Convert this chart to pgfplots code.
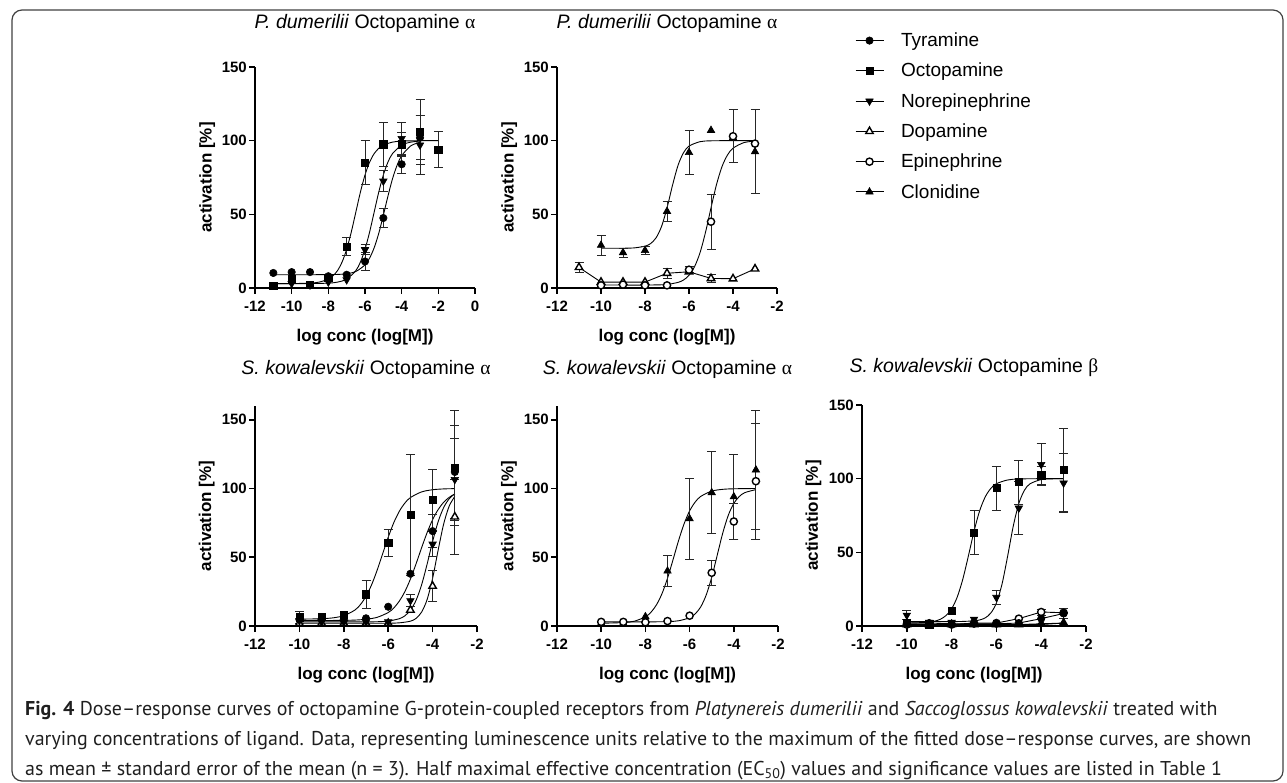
\documentclass[border=0pt]{standalone}
\usepackage{fontspec}
\setmainfont{Liberation Sans}
\newfontfamily\greekfont{Liberation Serif}
\newfontfamily\capfont{PT Sans}
\usepackage{pgfplots}
\pgfplotsset{compat=1.18}
\newlength\capw
\pgfplotsset{
  prism/.style={
    scale only axis, clip=false,
    axis lines=left,
    axis line style={line width=1.6pt, -},
    tick align=outside, major tick length=6pt,
    every tick/.style={line width=1.6pt, black},
    xmin=-12, ymin=0,
    ytick={0,50,100,150}, yticklabels={0,50,100,150},
    tick label style={font=\bfseries\fontsize{15}{15}\selectfont, inner sep=2pt},
    xticklabel style={yshift=-5pt},
    xlabel={log conc (log[M])},
    ylabel={activation [\%]},
    label style={font=\bfseries\fontsize{17}{17}\selectfont},
    ylabel style={at={(axis description cs:-0.217,0.5)}, anchor=center},
    title style={font=\fontsize{19.5}{19.5}\selectfont, anchor=base},
  },
  tyrm/.style={mark=*, mark size=3.7pt, mark options={fill=black, draw=black, line width=0.6pt, solid}},
  octm/.style={mark=square*, mark size=3.6pt, mark options={fill=black, draw=black, line width=0.6pt, solid}},
  nem/.style={mark=triangle*, mark size=4.3pt, mark options={rotate=180, fill=black, draw=black, line width=0.6pt, solid}},
  dam/.style={mark=triangle*, mark size=4.3pt, mark options={fill=white, draw=black, line width=1.4pt, solid}},
  epim/.style={mark=*, mark size=3.6pt, mark options={fill=white, draw=black, line width=1.4pt, solid}},
  clom/.style={mark=triangle*, mark size=4.3pt, mark options={fill=black, draw=black, line width=0.6pt, solid}},
  pts/.style={only marks, forget plot},
  fitline/.style={no markers, black, line width=0.9pt, smooth, forget plot},
  conn/.style={black, line width=0.9pt, forget plot},
  ebar/.style={forget plot, only marks, mark=none,
    error bars/.cd, y dir=both, y explicit,
    error bar style={draw=black!85, line width=0.9pt},
    error mark options={rotate=90, mark size=4.5pt, line width=0.9pt, draw=black!85}},
}
\begin{document}%
\settowidth{\capw}{\capfont\fontsize{18}{18}\selectfont varying concentrations of ligand. Data, representing luminescence units relative to the maximum of the fitted dose–response curves, are shown}%
\pgfmathsetmacro{\capsz}{18*(1226/\capw)}%
\def\capsel{\capfont\fontsize{\capsz}{\capsz}\selectfont}%
\begin{tikzpicture}
\useasboundingbox (0pt,0pt) rectangle (1287pt,782pt);
\draw[rounded corners=10pt, line width=1.2pt, black!75] (12pt,1pt) rectangle (1283pt,772pt);

% ---------------- Panel 1 ----------------
\begin{axis}[prism, at={(255pt,494pt)}, anchor=south west, width=220pt, height=221pt,
  xmax=0, ymax=150, xtick={-12,-10,-8,-6,-4,-2,0}, xticklabels={-12,-10,-8,-6,-4,-2,0},
  xlabel style={at={(axis description cs:0.5,-0.24)}, anchor=base},
  title style={at={(axis description cs:0.5,1.145)}},
  title={\textit{P. dumerilii} Octopamine {\greekfont α}}]
\addplot[fitline] coordinates {(-11,3.0) (-10,3.0) (-9,3.3) (-8.5,4.0) (-8,6.0) (-7.75,8.2) (-7.5,11.8) (-7.25,17.6) (-7,26.3) (-6.75,37.9) (-6.5,51.5) (-6.25,65.1) (-6,76.7) (-5.75,85.4) (-5.5,91.2) (-5.25,94.8) (-5,97.0) (-4.5,99.0) (-4,99.7) (-3,100) (-2,100)};
\addplot[fitline] coordinates {(-11,9.0) (-10,9.0) (-9,9.0) (-8,9.1) (-7.5,9.2) (-7,9.7) (-6.5,11.2) (-6,15.7) (-5.75,20.3) (-5.5,27.3) (-5.25,37.1) (-5,49.3) (-4.75,62.3) (-4.5,74.1) (-4.25,83.3) (-4,89.8) (-3.5,96.5) (-3,98.9)};
\addplot[fitline] coordinates {(-11,3.0) (-10,3.0) (-9,3.0) (-8,3.3) (-7.5,4.0) (-7,6.0) (-6.5,11.8) (-6.25,17.6) (-6,26.3) (-5.75,37.9) (-5.5,51.5) (-5.25,65.1) (-5,76.7) (-4.75,85.4) (-4.5,91.2) (-4,97.0) (-3.5,99.0) (-3,99.7)};
\addplot[ebar] coordinates {(-6,18) +- (0,6) (-5,47.5) +- (0,6.5) (-4,84) +- (0,6) (-3,102) +- (0,15)};
\addplot[ebar] coordinates {(-7,28) +- (0,6) (-6,85) +- (0,15) (-5,97.5) +- (0,15) (-4,97.5) +- (0,8) (-3,106) +- (0,22) (-2,94) +- (0,12)};
\addplot[ebar] coordinates {(-6,26) +- (0,3.5) (-5,72.5) +- (0,7) (-4,101.5) +- (0,11) (-3,97) +- (0,20)};
\addplot[pts, tyrm] coordinates {(-11,10.2) (-10,10.8) (-9,10.8) (-8,8) (-7,9) (-6,18) (-5,47.5) (-4,84) (-3,102)};
\addplot[pts, nem] coordinates {(-10,3) (-9,2) (-8,4) (-7,5.5) (-6,26) (-5,72.5) (-4,101.5) (-3,97)};
\addplot[pts, octm] coordinates {(-11,1.6) (-10,6) (-9,2.3) (-8,6.8) (-7,28) (-6,85) (-5,97.5) (-4,97.5) (-3,106) (-2,94)};
\end{axis}

% ---------------- Panel 2 ----------------
\begin{axis}[prism, at={(557pt,494pt)}, anchor=south west, width=220pt, height=221pt,
  xmax=-2, ymax=150, xtick={-12,-10,-8,-6,-4,-2}, xticklabels={-12,-10,-8,-6,-4,-2},
  xlabel style={at={(axis description cs:0.5,-0.24)}, anchor=base},
  title style={at={(axis description cs:0.5,1.145)}},
  title={\textit{P. dumerilii} Octopamine {\greekfont α}},
  legend image code/.code={\draw[mark repeat=2,mark phase=2,#1] plot coordinates {(0pt,0pt) (14pt,0pt) (28pt,0pt)};},
  legend style={at={(axis description cs:1.3545,1.154)}, anchor=north west, draw=none, fill=none,
    inner sep=0pt, outer sep=0pt, row sep=15pt, column sep=17pt,
    font=\fontsize{19}{19}\selectfont, nodes={inner sep=0pt}},
  legend cell align=left]
\addlegendimage{black, line width=1pt, tyrm}\addlegendentry{Tyramine}
\addlegendimage{black, line width=1pt, octm}\addlegendentry{Octopamine}
\addlegendimage{black, line width=1pt, nem}\addlegendentry{Norepinephrine}
\addlegendimage{black, line width=1pt, dam}\addlegendentry{Dopamine}
\addlegendimage{black, line width=1pt, epim}\addlegendentry{Epinephrine}
\addlegendimage{black, line width=1pt, clom}\addlegendentry{Clonidine}
\addplot[fitline] coordinates {(-10,27.0) (-9,27.0) (-8.5,27.2) (-8,28.4) (-7.75,30.1) (-7.5,34.0) (-7.25,41.7) (-7,54.3) (-6.75,69.7) (-6.5,83.2) (-6.25,91.8) (-6,96.3) (-5.5,99.3) (-5,99.9) (-4,100) (-3,100)};
\addplot[fitline] coordinates {(-10,2.0) (-9,2.0) (-8,2.0) (-7.5,2.1) (-7,2.4) (-6.5,3.8) (-6.25,5.4) (-6,8.6) (-5.75,14.4) (-5.5,23.9) (-5.25,37.8) (-5,54.4) (-4.75,70.2) (-4.5,82.4) (-4.25,90.3) (-4,94.9) (-3.5,98.7) (-3,99.7)};
\addplot[ebar] coordinates {(-10,29) +- (0,7) (-9,24) +- (0,3) (-8,25.5) +- (0,3) (-7,52) +- (0,7) (-6,92) +- (0,15) (-3,92.5) +- (0,28.5)};
\addplot[ebar] coordinates {(-6,12.4) +- (0,2) (-5,45) +- (0,18.5) (-4,103) +- (0,18)};
\addplot[ebar] coordinates {(-11,14) +- (0,3.5) (-7,10) +- (0,3.5) (-5,6.5) +- (0,3)};
\addplot[pts, clom] coordinates {(-10,29) (-9,24) (-8,25.5) (-7,52) (-6,92) (-5,107) (-4,102) (-3,92.5)};
\addplot[conn, dam] coordinates {(-11,14) (-10,4) (-9,4) (-8,4) (-7,10) (-6,11) (-5,6.5) (-4,6.3) (-3,13)};
\addplot[pts, epim] coordinates {(-10,1.8) (-9,2.3) (-8,1.8) (-7,1.8) (-6,12.4) (-5,45) (-4,103) (-3,98)};
\end{axis}

% ---------------- Panel 4 ----------------
\begin{axis}[prism, at={(255pt,156pt)}, anchor=south west, width=222pt, height=220pt,
  xmax=-2, ymax=160, xtick={-12,-10,-8,-6,-4,-2}, xticklabels={-12,-10,-8,-6,-4,-2},
  xlabel style={at={(axis description cs:0.5,-0.245)}, anchor=base},
  title style={at={(axis description cs:0.5,1.118)}},
  title={\textit{S. kowalevskii} Octopamine {\greekfont α}}]
\addplot[fitline] coordinates {(-10,5.0) (-9.5,5.1) (-9,5.3) (-8.5,5.9) (-8,7.5) (-7.5,11.6) (-7.25,15.6) (-7,21.6) (-6.75,29.9) (-6.5,40.5) (-6.25,52.5) (-6,64.5) (-5.75,75.1) (-5.5,83.4) (-5.25,89.4) (-5,93.4) (-4.5,97.5) (-4,99.1) (-3.5,99.7) (-3,99.9)};
\addplot[fitline] coordinates {(-10,4.0) (-9,4.0) (-8,4.1) (-7.5,4.3) (-7,4.9) (-6.5,6.3) (-6,9.8) (-5.75,13.1) (-5.5,18.1) (-5.25,25.0) (-5,34.1) (-4.75,45.0) (-4.5,56.7) (-4.25,67.8) (-4,77.3) (-3.75,84.7) (-3.5,90.0) (-3.25,93.6) (-3,96.0)};
\addplot[fitline] coordinates {(-10,3.0) (-8,3.0) (-7,3.0) (-6.5,3.1) (-6,3.6) (-5.5,5.3) (-5.25,7.4) (-5,11.5) (-4.75,18.5) (-4.5,29.7) (-4.25,44.8) (-4,61.4) (-3.75,75.9) (-3.5,86.2) (-3.25,92.6) (-3,96.1)};
\addplot[fitline] coordinates {(-10,2.0) (-8,2.0) (-7,2.0) (-6,2.0) (-5.5,2.3) (-5,3.5) (-4.75,5.5) (-4.5,10.0) (-4.25,19.1) (-4,34.7) (-3.75,55.2) (-3.5,74.3) (-3.25,87.3) (-3,94.2)};
\addplot[ebar] coordinates {(-10,6.3) +- (0,4.5) (-7,23) +- (0,10) (-6,60.5) +- (0,10) (-5,81) +- (0,44) (-4,91.5) +- (0,22) (-3,115) +- (0,42)};
\addplot[ebar] coordinates {(-4,69) +- (0,12) (-3,112) +- (0,34)};
\addplot[ebar] coordinates {(-5,18.4) +- (0,4.5) (-4,59.5) +- (0,9) (-3,106.5) +- (0,30)};
\addplot[ebar] coordinates {(-4,29) +- (0,11.5) (-3,79.4) +- (0,27)};
\addplot[pts, dam] coordinates {(-10,2) (-9,2) (-8,2) (-7,2) (-6,2) (-5,11.6) (-4,29) (-3,79.4)};
\addplot[pts, nem] coordinates {(-10,4) (-9,3) (-8,3) (-7,3) (-6,3) (-5,18.4) (-4,59.5) (-3,106.5)};
\addplot[pts, tyrm] coordinates {(-10,4.8) (-9,5) (-8,4) (-7,5.6) (-6,14) (-5,38) (-4,69) (-3,112)};
\addplot[pts, octm] coordinates {(-10,6.3) (-9,6.8) (-8,8) (-7,23) (-6,60.5) (-5,81) (-4,91.5) (-3,115)};
\end{axis}

% ---------------- Panel 5 ----------------
\begin{axis}[prism, at={(557pt,156pt)}, anchor=south west, width=221pt, height=220pt,
  xmax=-2, ymax=160, xtick={-12,-10,-8,-6,-4,-2}, xticklabels={-12,-10,-8,-6,-4,-2},
  xlabel style={at={(axis description cs:0.5,-0.245)}, anchor=base},
  title style={at={(axis description cs:0.5,1.118)}},
  title={\textit{S. kowalevskii} Octopamine {\greekfont α}}]
\addplot[fitline] coordinates {(-10,2.0) (-9,2.5) (-8.5,3.5) (-8,6.7) (-7.75,10.0) (-7.5,15.4) (-7.25,23.5) (-7,34.7) (-6.75,48.2) (-6.5,62.1) (-6.25,74.3) (-6,83.7) (-5.75,90.1) (-5.5,94.2) (-5,98.1) (-4.5,99.4) (-4,99.8) (-3,100)};
\addplot[fitline] coordinates {(-10,3.0) (-8,3.0) (-7,3.2) (-6.5,3.8) (-6,6.0) (-5.75,8.8) (-5.5,13.8) (-5.25,22.5) (-5,35.4) (-4.75,51.5) (-4.5,67.6) (-4.25,80.5) (-4,89.2) (-3.75,94.2) (-3.5,97.0) (-3,99.2)};
\addplot[ebar] coordinates {(-7,40) +- (0,11) (-6,78) +- (0,29.5) (-5,97) +- (0,30) (-4,94) +- (0,31) (-3,113.5) +- (0,43)};
\addplot[ebar] coordinates {(-5,38.7) +- (0,9) (-4,76) +- (0,13) (-3,105.3) +- (0,42)};
\addplot[pts, clom] coordinates {(-10,2) (-9,2) (-8,6.8) (-7,40) (-6,78) (-5,97) (-4,94) (-3,113.5)};
\addplot[pts, epim] coordinates {(-10,3) (-9,3) (-8,2.7) (-7,3.6) (-6,7.5) (-5,38.7) (-4,76) (-3,105.3)};
\end{axis}

% ---------------- Panel 6 ----------------
\begin{axis}[prism, at={(862pt,156pt)}, anchor=south west, width=224pt, height=221pt,
  xmax=-2, ymax=150, xtick={-12,-10,-8,-6,-4,-2}, xticklabels={-12,-10,-8,-6,-4,-2},
  xlabel style={at={(axis description cs:0.5,-0.244)}, anchor=base},
  title style={at={(axis description cs:0.5,1.118)}},
  title={\textit{S. kowalevskii} Octopamine {\greekfont β}}]
\addplot[fitline] coordinates {(-10,2.0) (-9.5,2.2) (-9,2.7) (-8.75,3.3) (-8.5,4.6) (-8.25,7.1) (-8,11.7) (-7.75,19.6) (-7.5,31.8) (-7.25,47.6) (-7,64.2) (-6.75,78.1) (-6.5,87.6) (-6.25,93.4) (-6,96.6) (-5.5,99.1) (-5,99.8) (-4,100) (-3,100)};
\addplot[fitline] coordinates {(-10,3.0) (-8,3.0) (-7.5,3.1) (-7,3.5) (-6.75,4.1) (-6.5,5.5) (-6.25,8.8) (-6,15.6) (-5.75,28.4) (-5.5,47.3) (-5.25,67.6) (-5,83.1) (-4.75,92.1) (-4.5,96.5) (-4,99.4) (-3.5,99.9) (-3,100)};
\addplot[ebar] coordinates {(-7,63.5) +- (0,15) (-6,93.6) +- (0,15) (-5,97.7) +- (0,15) (-4,102.3) +- (0,6) (-3,106) +- (0,28)};
\addplot[ebar] coordinates {(-10,7.3) +- (0,3) (-6,19.4) +- (0,4.5) (-5,80) +- (0,18) (-4,109.6) +- (0,14) (-3,97) +- (0,20)};
\addplot[ebar] coordinates {(-3,8.5) +- (0,3.5) (-4,9.5) +- (0,2)};
\addplot[conn, dam] coordinates {(-10,1) (-9,1) (-8,1) (-7,1) (-6,1) (-5,1) (-4,1.5) (-3,2)};
\addplot[conn, clom] coordinates {(-10,1) (-9,1) (-8,1) (-7,1) (-6,1) (-5,1) (-4,1) (-3,2)};
\addplot[conn, epim] coordinates {(-10,1) (-9,1) (-8,1) (-7,2) (-6,2) (-5,5) (-4,9.5) (-3,9)};
\addplot[conn, tyrm] coordinates {(-10,2) (-9,2) (-8,1.5) (-7,1.5) (-6,1.5) (-5,2) (-4,5) (-3,8.5)};
\addplot[pts, nem] coordinates {(-10,7.3) (-9,2.5) (-8,2.5) (-7,4.6) (-6,19.4) (-5,80) (-4,109.6) (-3,97)};
\addplot[pts, octm] coordinates {(-10,2.3) (-9,1.1) (-8,10.3) (-7,63.5) (-6,93.6) (-5,97.7) (-4,102.3) (-3,106)};
\end{axis}

% ---------------- Caption ----------------
\node[anchor=base west, inner sep=0pt, font=\capsel, text=black!88] at (25pt,67pt)
  {\textbf{Fig. 4} Dose–response curves of octopamine G-protein-coupled receptors from \textit{Platynereis dumerilii} and \textit{Saccoglossus kowalevskii} treated with};
\node[anchor=base west, inner sep=0pt, font=\capsel, text=black!88] at (25pt,37pt)
  {varying concentrations of ligand. Data, representing luminescence units relative to the maximum of the fitted dose–response curves, are shown};
\node[anchor=base west, inner sep=0pt, font=\capsel, text=black!88] at (25pt,7pt)
  {as mean ± standard error of the mean (n = 3). Half maximal effective concentration (EC\textsubscript{50}) values and significance values are listed in Table 1};
\end{tikzpicture}
\end{document}
